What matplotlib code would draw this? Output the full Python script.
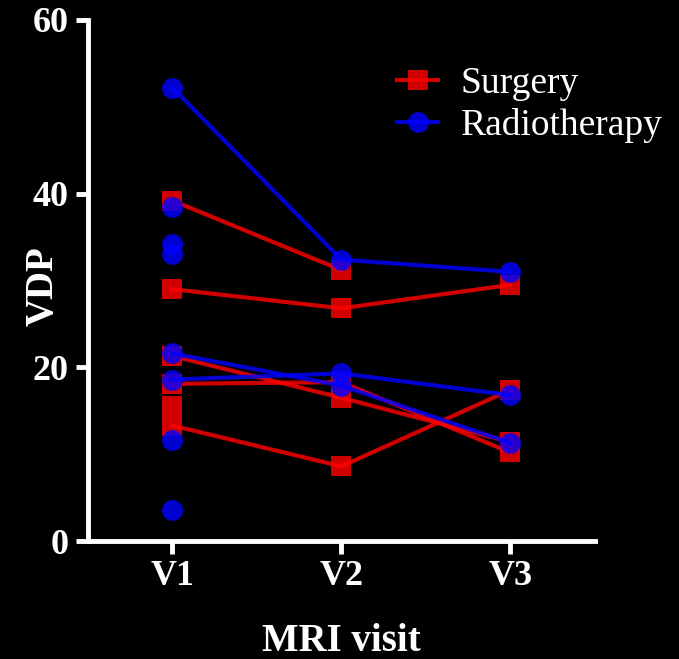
import numpy as np
import matplotlib
matplotlib.use("Agg")
import matplotlib.pyplot as plt

nan = np.nan
visits = ["V1", "V2", "V3"]

# VDP per subject at V1, V2, V3 (nan = no scan)
surgery = [
    [39.2, 31.2, nan],
    [29.0, 26.8, 29.5],
    [21.3, 16.5, 11.4],
    [18.1, 18.3, 10.2],
    [15.5, nan, nan],
    [13.3, 8.6, 17.4],
]
radiotherapy = [
    [52.2, 32.4, 31.0],
    [38.5, nan, nan],
    [34.2, nan, nan],
    [33.1, nan, nan],
    [21.6, 17.9, 11.3],
    [18.6, 19.3, 16.8],
    [11.6, nan, nan],
    [3.6, nan, nan],
]

plt.rcParams["font.family"] = ["Liberation Serif", "DejaVu Serif"]

fig = plt.figure(figsize=(6.79, 6.59), dpi=100, facecolor="black")
ax = fig.add_axes([0.1296, 0.179, 0.7464, 0.7907])
ax.set_facecolor("black")

x = np.arange(len(visits))
groups = [("Surgery", surgery, "#ff0000", "s"),
          ("Radiotherapy", radiotherapy, "#0000ff", "o")]
for name, rows, color, marker in groups:
    for i, row in enumerate(rows):
        ax.plot(x, row, color=color, marker=marker, markersize=15,
                markeredgewidth=0, linewidth=3, alpha=0.82,
                label=name if i == 0 else None, zorder=3)

ax.set_xlim(-0.5, 2.5)
ax.set_ylim(0, 60)
ax.set_xticks(x)
ax.set_xticklabels(visits)
ax.set_yticks([0, 20, 40, 60])

for side in ["top", "right"]:
    ax.spines[side].set_visible(False)
for side in ["left", "bottom"]:
    ax.spines[side].set_color("white")
    ax.spines[side].set_linewidth(3.5)
    ax.spines[side].set_capstyle("projecting")

ax.tick_params(colors="white", width=3.5, length=9, labelsize=26, pad=5)
for lbl in ax.get_xticklabels() + ax.get_yticklabels():
    lbl.set_fontweight("bold")

ax.set_xlabel("MRI visit", color="white", fontsize=28, fontweight="bold")
ax.set_ylabel("VDP", color="white", fontsize=28, fontweight="bold")
ax.xaxis.set_label_coords(0.5, -0.192)
ax.yaxis.set_label_coords(-0.089, 0.49)
ax.xaxis.label.set_va("center")
ax.yaxis.label.set_va("center")

leg = ax.legend(loc="upper right", bbox_to_anchor=(0.998, 0.922),
                bbox_transform=fig.transFigure, frameon=False, fontsize=27,
                handlelength=1.1, handletextpad=0.6, labelspacing=0.18,
                borderaxespad=0)
for t in leg.get_texts():
    t.set_color("white")

fig.savefig("out.png", dpi=100, facecolor="black")
